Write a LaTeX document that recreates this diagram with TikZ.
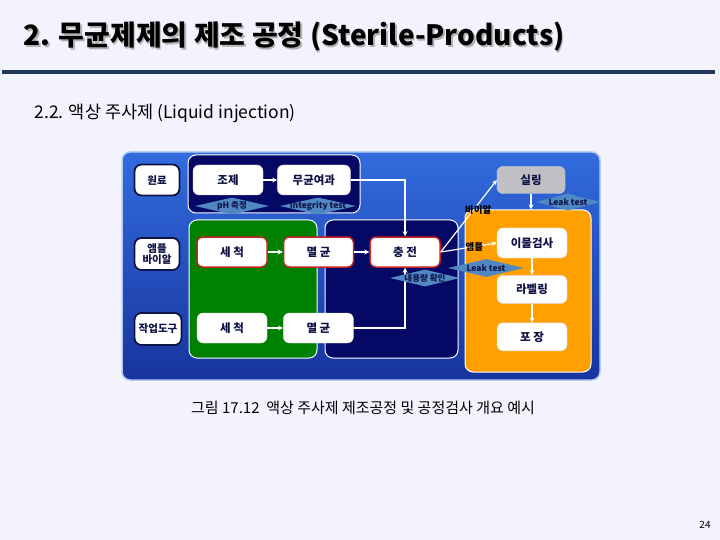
\documentclass[tikz,border=0pt]{standalone}
\usepackage{fontspec}
\setmainfont{Noto Sans CJK KR}
\usetikzlibrary{shapes.geometric, arrows, positioning}

\definecolor{pagebg}{RGB}{243,243,253}
\definecolor{ruleblue}{RGB}{31,56,92}
\definecolor{paneltop}{RGB}{50,108,222}
\definecolor{panelbot}{RGB}{24,52,158}
\definecolor{navy}{RGB}{5,8,100}
\definecolor{leaf}{RGB}{0,128,0}
\definecolor{amber}{RGB}{255,160,0}
\definecolor{steel}{RGB}{80,136,196}
\definecolor{inkblue}{RGB}{15,20,70}
\definecolor{boxred}{RGB}{200,35,35}
\definecolor{sealgray}{RGB}{192,192,196}

\tikzstyle{panel} = [rectangle, rounded corners=8pt, draw=white, line width=1pt]
\tikzstyle{side} = [rectangle, rounded corners=7pt, minimum width=45pt, minimum height=31pt, inner sep=1pt, align=center, font=\fontsize{10.5}{10.5}\selectfont\bfseries, draw=inkblue, line width=1.8pt, fill=white, text=inkblue]
\tikzstyle{proc} = [rectangle, rounded corners=6pt, minimum width=70pt, minimum height=30pt, inner sep=1pt, font=\fontsize{11.5}{12}\selectfont\bfseries, draw=white!85!black, fill=white, text=inkblue]
\tikzstyle{procred} = [proc, draw=boxred, line width=1.5pt]
\tikzstyle{check} = [diamond, inner sep=0pt, minimum height=17pt, fill=steel, font=\fontsize{8.5}{9}\selectfont\bfseries, text=inkblue]
\tikzstyle{arrow} = [white, line width=1.2pt, ->, >=stealth]
\tikzstyle{cut} = [inner sep=0pt, font=\fontsize{9.5}{10}\selectfont\bfseries, text=black]

\newcommand{\chk}[1]{\makebox[0pt]{#1}}

\begin{document}
\begin{tikzpicture}[x=1pt, y=-1pt]
  \fill [pagebg] (0,0) rectangle (720,540);
  \useasboundingbox (0,0) rectangle (720,540);

  % heading
  \node (TSHD) [anchor=west, text=black!30, font=\fontsize{28}{30}\selectfont\bfseries] at (21.5,38.5) {2. 무균제제의 제조 공정 (Sterile-Products)};
  \node (TITLE) [anchor=west, font=\fontsize{28}{30}\selectfont\bfseries] at (20,37) {2. 무균제제의 제조 공정 (Sterile-Products)};
  \draw [ruleblue, line width=4pt] (2,72) -- (715,72);
  \node (SUB) [anchor=west, font=\fontsize{17.5}{19}\selectfont] at (31,113) {2.2. 액상 주사제 (Liquid injection)};

  % panels
  \node (OUTER) [panel, minimum width=478pt, minimum height=228pt, top color=paneltop, bottom color=panelbot, draw=white!65!paneltop, line width=1.5pt] at (361,266) {};
  \node (TOPN) [panel, minimum width=172pt, minimum height=58pt, fill=navy] at (274,184) {};
  \node (GREEN) [panel, minimum width=128pt, minimum height=138pt, fill=leaf] at (253,289) {};
  \node (MIDN) [panel, minimum width=133pt, minimum height=138pt, fill=navy] at (391.5,289) {};
  \node (ORANGE) [panel, minimum width=126pt, minimum height=162pt, fill=amber] at (528,291) {};

  % left column
  \node (WONRYO) [side] at (157,180) {원료};
  \node (AMPUL) [side, minimum height=32pt] at (157,254) {앰플\\[1pt]바이알};
  \node (TOOLS) [side, minimum width=47pt, minimum height=32pt, inner sep=0pt] at (158,329) {작업도구};

  % process boxes
  \node (JOJE) [proc] at (228,180) {조제};
  \node (FILT) [proc, right=14pt of JOJE, minimum width=73pt] {무균여과};
  \node (WASH1) [procred] at (232,252) {세 척};
  \node (STER1) [procred, right=15pt of WASH1] {멸 균};
  \node (FILL) [procred, right=15pt of STER1] {충 전};
  \node (WASH2) [proc] at (232,328) {세 척};
  \node (STER2) [proc, right=16pt of WASH2] {멸 균};
  \node (SEAL) [proc, minimum width=68pt, minimum height=27pt, fill=sealgray] at (531,180) {실링};
  \node (INSP) [proc] at (532,243) {이물검사};
  \node (LABEL) [proc, minimum height=28pt, below=17pt of INSP] {라벨링};
  \node (PACK) [proc, minimum height=28pt, below=19pt of LABEL] {포 장};

  % flow
  \draw [arrow] (JOJE) -- (FILT);
  \draw [arrow] (FILT.east) -| (FILL.north);
  \draw [arrow] (WASH1) -- (STER1);
  \draw [arrow] (STER1) -- (FILL);
  \draw [arrow] (WASH2) -- (STER2);
  \draw [arrow] (STER2.east) -| (FILL.south);
  \draw [arrow] (FILL.east) -- node[cut, pos=0.58, xshift=5pt] (VIALT) {바이알} (SEAL.west);
  \draw [arrow] (FILL.east) -- node[cut, pos=0.6] (AMPT) {앰플} (INSP.west);
  \draw [arrow] (SEAL.south) -- (SEAL.south |- ORANGE.north);
  \draw [arrow] (INSP) -- (LABEL);
  \draw [arrow] (LABEL) -- (PACK);

  % in-process checks
  \node (PH) [check, minimum width=74pt] at (232,206) {\chk{pH 측정}};
  \node (INTEG) [check, minimum width=76pt] at (318,206) {\chk{Integrity test}};
  \node (VOL) [check, minimum width=70pt] at (425,278) {\chk{내용량 확인}};
  \node (LEAK1) [check, minimum width=76pt, minimum height=18pt] at (486,268) {\chk{Leak test}};
  \node (LEAK2) [check, minimum width=64pt] at (568,202) {\chk{Leak test}};

  % caption
  \node (CAP) [font=\fontsize{15}{17}\selectfont] at (363,408) {그림 17.12\ \ 액상 주사제 제조공정 및 공정검사 개요 예시};
  \node (PAGE) [font=\fontsize{10}{12}\selectfont] at (705,525) {24};
\end{tikzpicture}
\end{document}
